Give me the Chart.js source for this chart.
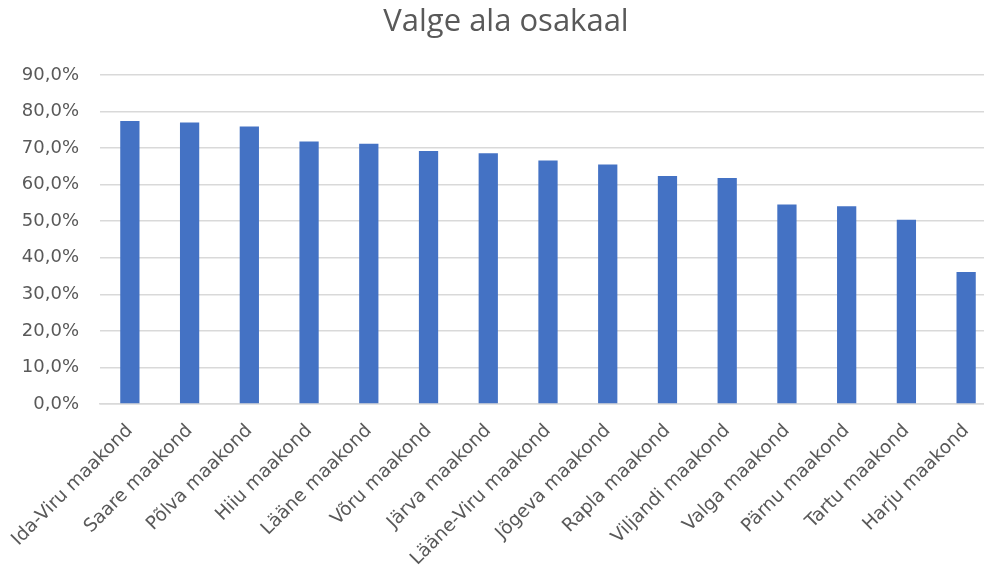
<!DOCTYPE html>
<html><head><meta charset="utf-8">
<script src="https://cdn.jsdelivr.net/npm/chart.js@4/dist/chart.umd.min.js"></script>
<style>html,body{margin:0;padding:0;overflow:hidden;background:#fff}#wrap{width:1012px;height:565px}</style>
</head><body><div id="wrap"><canvas id="c" width="1012" height="565"></canvas></div>
<script>
const categories = ["Ida-Viru maakond","Saare maakond","Põlva maakond","Hiiu maakond","Lääne maakond","Võru maakond","Järva maakond","Lääne-Viru maakond","Jõgeva maakond","Rapla maakond","Viljandi maakond","Valga maakond","Pärnu maakond","Tartu maakond","Harju maakond"];
const values = [77.4,77.0,75.9,71.8,71.2,69.2,68.6,66.6,65.5,62.4,61.8,54.6,54.1,50.4,36.1];
const title = "Valge ala osakaal";
const titleFont = "'Open Sans', 'Liberation Sans', sans-serif";
const tickFont = "'DejaVu Sans', sans-serif";
new Chart(document.getElementById('c'), {
  type: 'bar',
  data: { labels: categories, datasets: [{ data: values, backgroundColor: '#4472C4', barPercentage: 0.62, categoryPercentage: 0.52 }] },
  options: {
    responsive: false, animation: false,
    layout: { padding: { left: 16, right: 16, top: 0, bottom: 0 } },
    plugins: {
      legend: { display: false },
      tooltip: { enabled: false },
      title: { display: true, text: title, color: '#595959', font: { family: titleFont, size: 31, weight: 'normal', lineHeight: 1.2 }, padding: { top: 4, bottom: 33.8 } }
    },
    scales: {
      y: { min: 0, max: 90, ticks: { stepSize: 10, color: '#595959', font: { family: tickFont, size: 18 }, padding: 21, callback: v => v.toFixed(1).replace('.', ',') + '%' },
           grid: { color: '#d9d9d9', lineWidth: 1.5, drawTicks: false }, border: { display: false },
           afterFit: s => { s.width = 84; } },
      x: { ticks: { color: '#595959', font: { family: tickFont, size: 18.5 }, minRotation: 45, maxRotation: 45, autoSkip: false, padding: 8 },
           grid: { display: false }, border: { color: '#d9d9d9', width: 1.5 },
           afterFit: s => { s.height = 161; } }
    }
  }
});
</script></body></html>
